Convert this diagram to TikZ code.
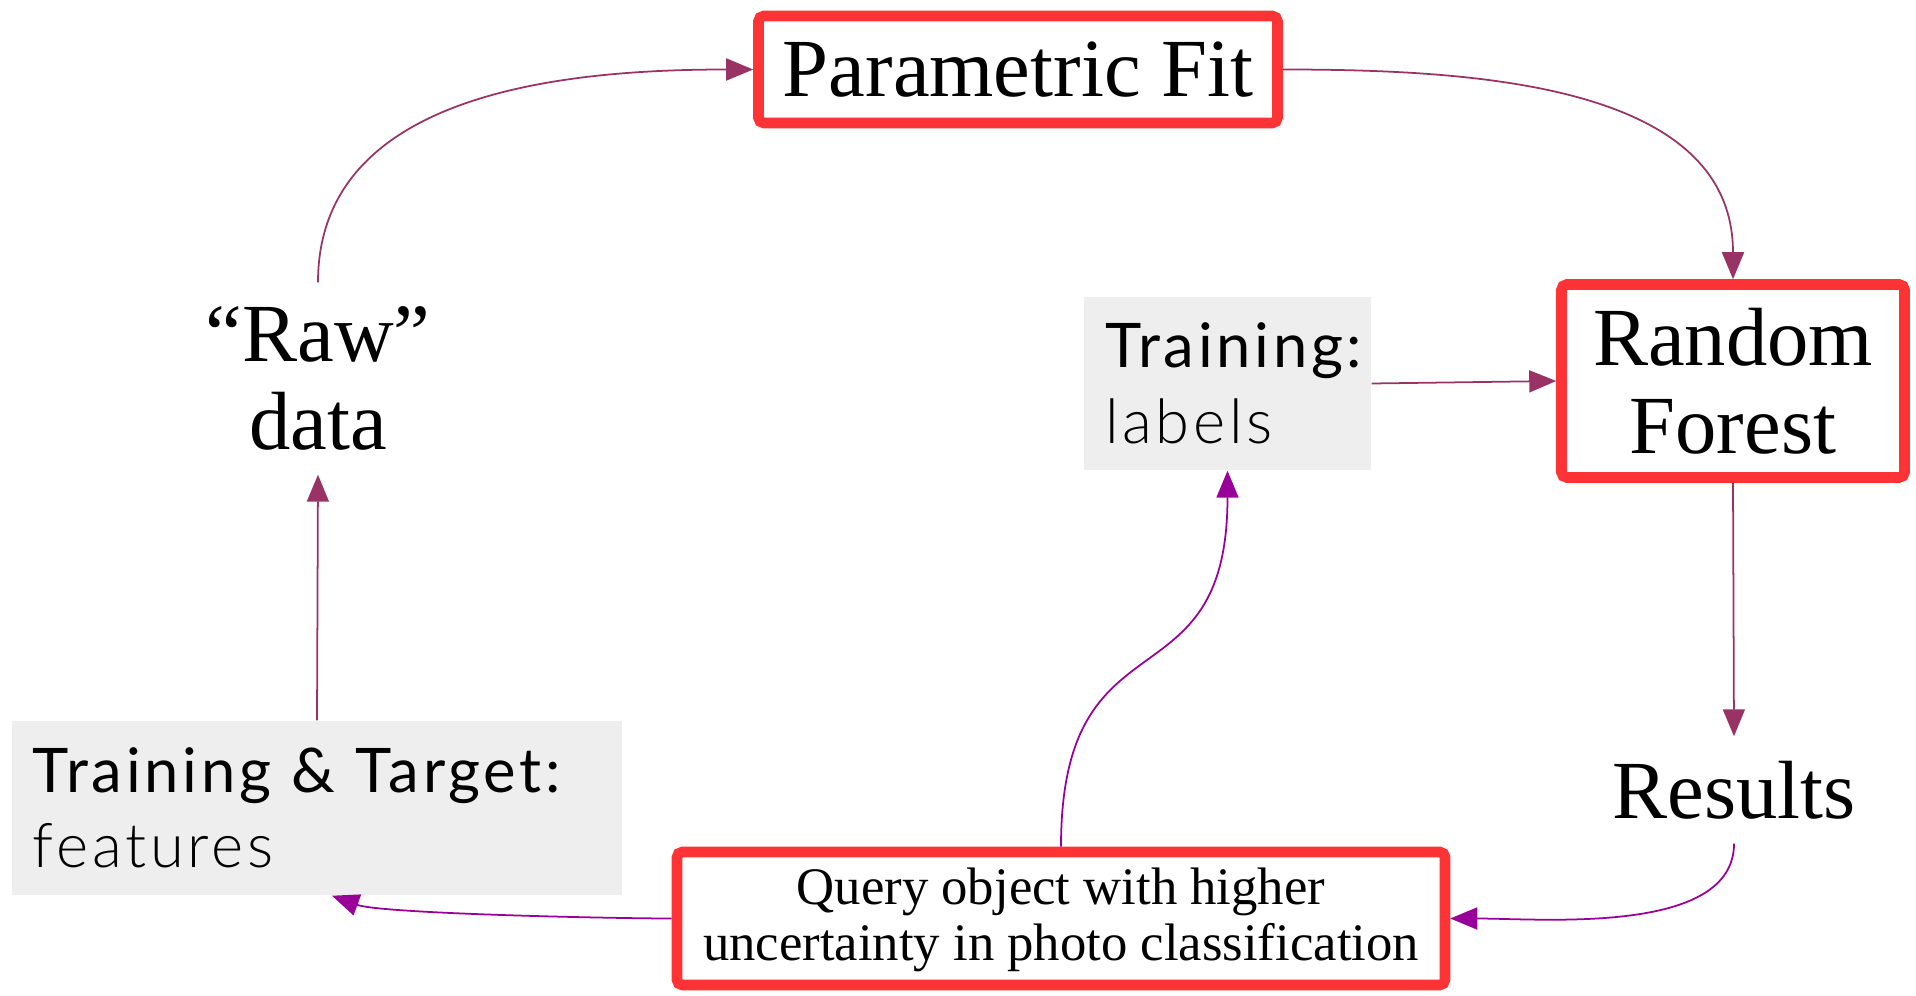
\documentclass[tikz,border=0pt]{standalone}
\usepackage{fontspec}
\setmainfont{Liberation Serif}
\newfontfamily\handFont{Lato}[LetterSpace=6]
\newfontfamily\handLight{Lato Light}[LetterSpace=6]
\usetikzlibrary{arrows.meta}
\definecolor{boxRed}{HTML}{FE3335}
\definecolor{noteGray}{HTML}{EEEEEE}
\definecolor{arrowPlum}{HTML}{993366}
\definecolor{arrowPurple}{HTML}{990099}
\tikzset{
  redBox/.style={draw=boxRed, line width=3pt, rounded corners=1.5pt, fill=white,
                 align=center, inner sep=0pt},
  grayNote/.style={fill=noteGray, inner xsep=0.21cm, inner ysep=0pt, align=left,
                   font=\fontsize{17.5}{21.5}\selectfont},
  plainLabel/.style={align=center, inner sep=0pt},
  plumArrow/.style={draw=arrowPlum, line width=0.5pt,
                    -{Triangle[length=0.27cm,width=0.22cm]}},
  purpleArrow/.style={draw=arrowPurple, line width=0.5pt,
                      -{Triangle[length=0.27cm,width=0.22cm]}},
}

\begin{document}
\begin{tikzpicture}
  \useasboundingbox (0,0) rectangle (19.16,9.95);

  % boxes
  \node[redBox, minimum width=5.19cm, minimum height=1.07cm,
        font=\fontsize{23.5}{25}\selectfont] (pfit) at (10.18,9.255) {Parametric Fit};
  \node[redBox, minimum width=3.43cm, minimum height=1.93cm,
        font=\fontsize{23.5}{25}\selectfont] (rf) at (17.33,6.14) {Random\\Forest};
  \node[redBox, minimum width=7.68cm, minimum height=1.33cm,
        font=\fontsize{15}{15.8}\selectfont] (query) at (10.61,0.765)
        {\strut Query object with higher\\uncertainty in photo classification};

  % plain labels
  \node[plainLabel, minimum height=1.91cm, font=\fontsize{23.5}{25}\selectfont]
        (raw) at (3.18,6.165) {``Raw''\\data};
  \node[plainLabel, minimum height=1.06cm, font=\fontsize{23.5}{25}\selectfont]
        (results) at (17.34,2.05) {Results};

  % gray notes
  \node[grayNote, text width=2.45cm, minimum height=1.73cm] (trainLabels)
        at (12.275,6.115) {{\handFont Training:}\\{\handLight labels}};
  \node[grayNote, text width=5.68cm, minimum height=1.74cm] (trainFeat)
        at (3.17,1.87) {{\handFont Training \& Target:}\\{\handLight features}};

  % connectors
  \draw[plumArrow] (raw.north) to[out=90,in=180] (pfit.west);
  \draw[plumArrow] (pfit.east) to[out=0,in=90] (rf.north);
  \draw[plumArrow] (trainLabels.east) -- (rf.west);
  \draw[plumArrow] (rf.south) -- (results.north);
  \draw[purpleArrow] (results.south) to[out=-90,in=0,looseness=0.8] (query.east);
  \draw[purpleArrow] (query.north) to[out=90,in=-90,looseness=1.5] (trainLabels.south);
  \draw[purpleArrow] (query.west) to[out=180,in=-20,looseness=0.4]
        ([xshift=0.15cm]trainFeat.south);
  \draw[plumArrow] (trainFeat.north) -- (raw.south);
\end{tikzpicture}
\end{document}
